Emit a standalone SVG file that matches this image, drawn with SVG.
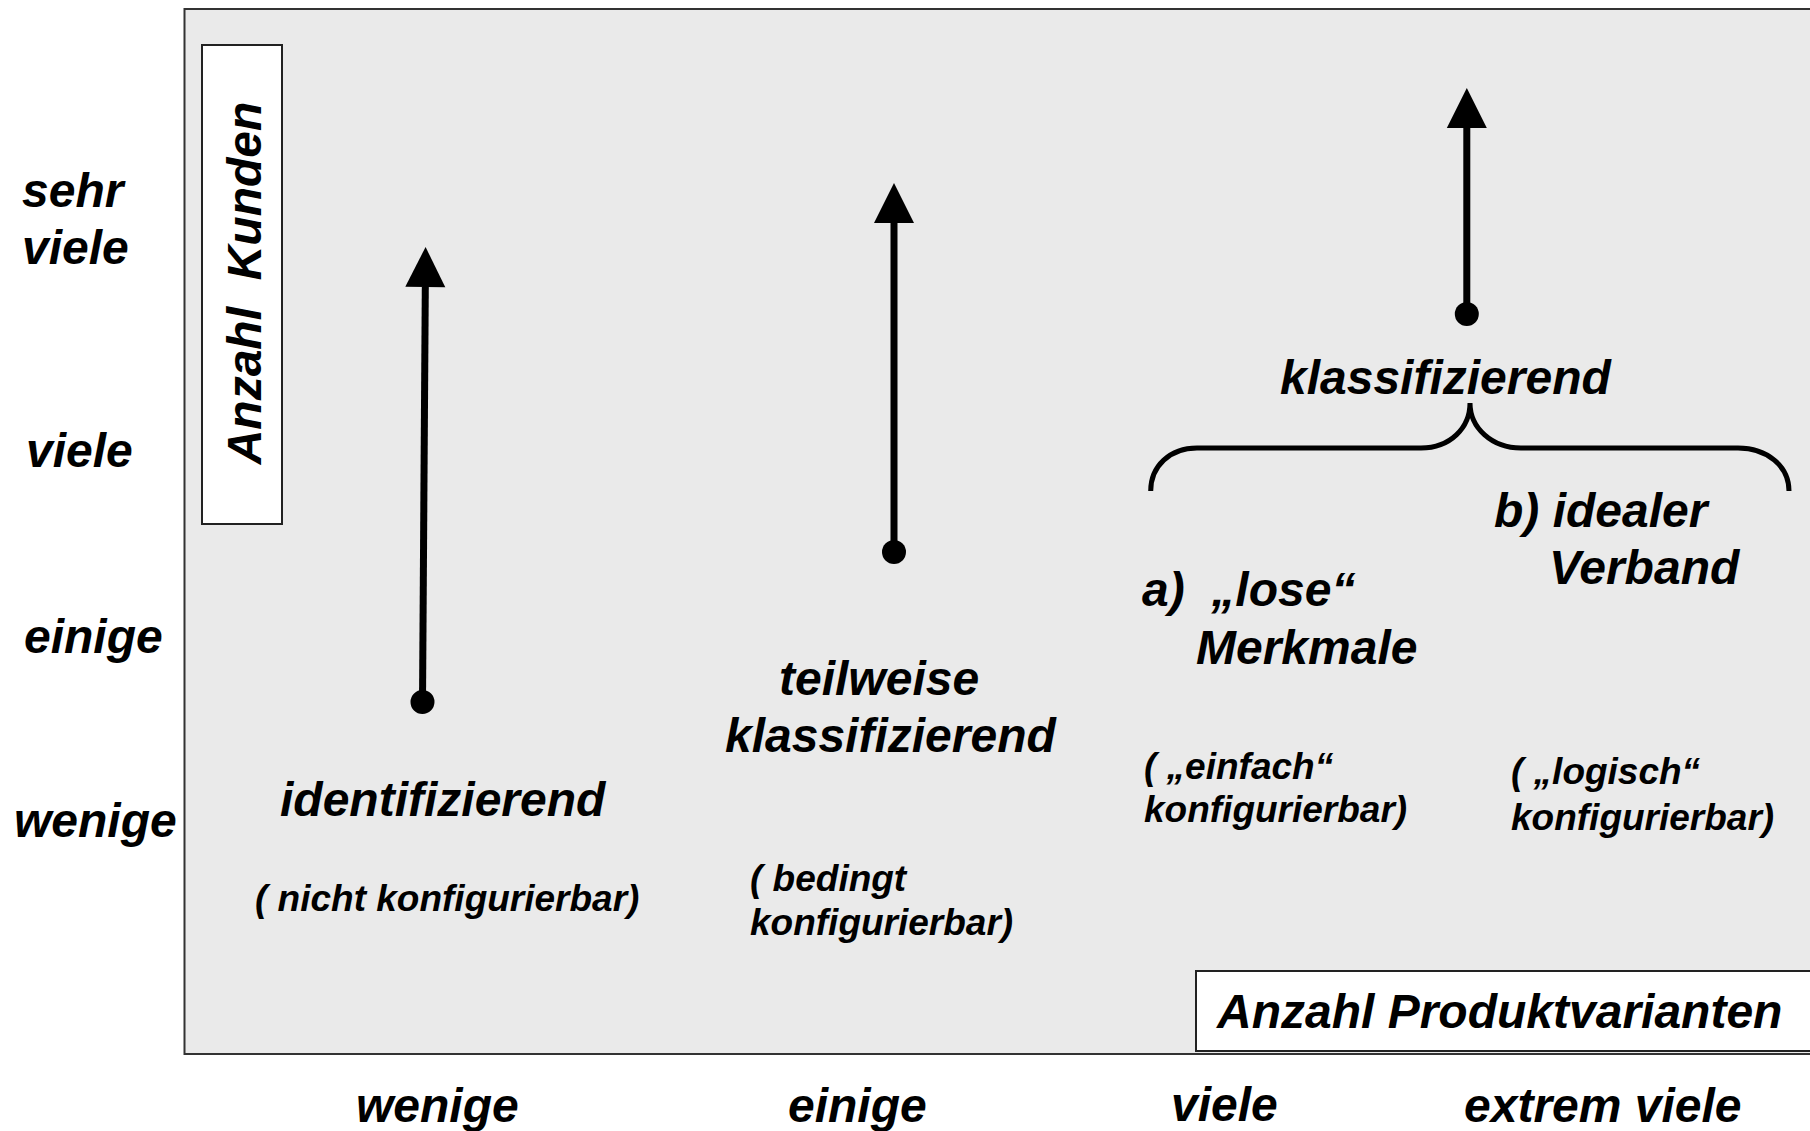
<svg xmlns="http://www.w3.org/2000/svg" width="1810" height="1131" viewBox="0 0 1810 1131">
  <style>
    text { font-family: "Liberation Sans", Arial, sans-serif; font-weight: bold; font-style: italic; fill: #000; }
    .big { font-size: 48px; }
    .small { font-size: 37px; }
    .frame { fill: #eaeaea; stroke: #333; stroke-width: 2; }
    .box { fill: #fff; stroke: #222; stroke-width: 2; }
    .arrow { stroke: #000; stroke-width: 7; fill: none; marker-start: url(#dot); marker-end: url(#head); }
    .brace { stroke: #000; stroke-width: 5; fill: none; }
  </style>
  <defs>
    <marker id="head" markerUnits="userSpaceOnUse" markerWidth="42" markerHeight="42" refX="0" refY="20" orient="auto" overflow="visible">
      <path d="M0,0 L40,20 L0,40 Z" fill="#000"/>
    </marker>
    <marker id="dot" markerUnits="userSpaceOnUse" markerWidth="26" markerHeight="26" refX="13" refY="13" orient="auto" overflow="visible">
      <circle cx="13" cy="13" r="12" fill="#000"/>
    </marker>
  </defs>

  <!-- chart area -->
  <rect id="plot-area" class="frame" x="184.5" y="9" width="1700" height="1045"/>

  <!-- y axis scale labels -->
  <g id="y-scale">
    <text class="big" x="22" y="207">sehr</text>
    <text class="big" x="22" y="264">viele</text>
    <text class="big" x="26" y="467">viele</text>
    <text class="big" x="24" y="653">einige</text>
    <text class="big" x="14" y="837">wenige</text>
  </g>

  <!-- x axis scale labels -->
  <g id="x-scale">
    <text class="big" x="356" y="1122">wenige</text>
    <text class="big" x="788" y="1122">einige</text>
    <text class="big" x="1171" y="1121">viele</text>
    <text class="big" x="1464" y="1122">extrem viele</text>
  </g>

  <!-- axis titles -->
  <g id="y-title">
    <rect class="box" x="202" y="45" width="80" height="479"/>
    <text class="big" xml:space="preserve" text-anchor="middle" transform="translate(261,283) rotate(-90)">Anzahl  Kunden</text>
  </g>
  <g id="x-title">
    <rect class="box" x="1196" y="971" width="640" height="80"/>
    <text class="big" x="1217" y="1028">Anzahl Produktvarianten</text>
  </g>

  <!-- connectors -->
  <g id="connectors">
    <line class="arrow" x1="422.5" y1="702" x2="425.3" y2="287"/>
    <line class="arrow" x1="894" y1="552" x2="894" y2="223"/>
    <line class="arrow" x1="1466.8" y1="314" x2="1466.8" y2="128"/>
    <path class="brace" d="M1150.7,491 C1150.7,466 1170,448 1197,448 L1421,448 C1450,448 1470,428 1470,403 C1470,428 1492,448 1521,448 L1738,448 C1767,448 1789,466 1789,491"/>
  </g>

  <!-- categories -->
  <g id="identifizierend">
    <text class="big" x="280" y="816">identifizierend</text>
    <text class="small" x="255" y="911">( nicht konfigurierbar)</text>
  </g>
  <g id="teilweise-klassifizierend">
    <text class="big" x="779" y="695">teilweise</text>
    <text class="big" x="725" y="752">klassifizierend</text>
    <text class="small" x="750" y="891">( bedingt</text>
    <text class="small" x="750" y="935">konfigurierbar)</text>
  </g>
  <g id="klassifizierend">
    <text class="big" x="1280" y="394">klassifizierend</text>
  </g>
  <g id="lose-merkmale">
    <text class="big" xml:space="preserve" x="1142" y="606">a)  „lose“</text>
    <text class="big" x="1196" y="664">Merkmale</text>
    <text class="small" x="1144" y="779">( „einfach“</text>
    <text class="small" x="1144" y="822">konfigurierbar)</text>
  </g>
  <g id="idealer-verband">
    <text class="big" x="1494" y="527">b) idealer</text>
    <text class="big" x="1549" y="584">Verband</text>
    <text class="small" x="1511" y="784">( „logisch“</text>
    <text class="small" x="1511" y="830">konfigurierbar)</text>
  </g>
</svg>
